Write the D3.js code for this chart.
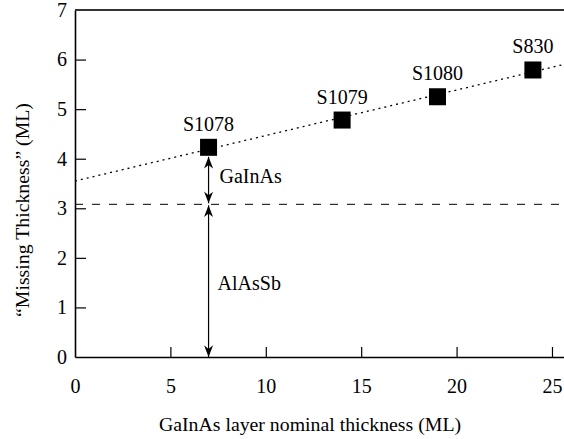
<!DOCTYPE html>
<html>
<head>
<meta charset="utf-8">
<script src="https://cdn.jsdelivr.net/npm/d3@7"></script>
<style>
  body { margin: 0; background: #fff; }
  svg text { font-family: "Liberation Serif", "Times New Roman", Times, "DejaVu Serif", serif; }
</style>
</head>
<body>
<svg id="chart"></svg>
<script>
// sample data
const samples = ["S1078", "S1079", "S1080", "S830"];
const nominal = [7, 14, 19, 24];
const missing = [4.23, 4.78, 5.25, 5.79];

// linear fit through the points (end points)
const fitX = [0, 25.6];
const fitY = [3.55, 5.9];

// AlAsSb level (dashed)
const alassbLevel = 3.08;

const xTicks = [0, 5, 10, 15, 20, 25];
const yTicks = [0, 1, 2, 3, 4, 5, 6, 7];

const width = 564, height = 439;
const margin = { top: 10, right: 0, bottom: 82, left: 75 };
const innerW = width - margin.left - margin.right;
const innerH = height - margin.top - margin.bottom;
const serif = '"Liberation Serif", "Times New Roman", Times, "DejaVu Serif", serif';

const svg = d3.select("#chart")
    .attr("width", width)
    .attr("height", height);

const defs = svg.append("defs");
defs.append("marker")
    .attr("id", "head")
    .attr("viewBox", "0 -5 13 10")
    .attr("refX", 13)
    .attr("refY", 0)
    .attr("markerWidth", 13)
    .attr("markerHeight", 9)
    .attr("markerUnits", "userSpaceOnUse")
    .attr("orient", "auto-start-reverse")
    .append("path")
    .attr("d", "M0,-5 L13,0 L0,5 L4,0 Z")
    .attr("fill", "#000");

const g = svg.append("g")
    .attr("transform", `translate(${margin.left},${margin.top})`);

const x = d3.scaleLinear().domain([0, 25.63]).range([0, innerW]);
const y = d3.scaleLinear().domain([0, 7]).range([innerH, 0]);

// axes
const xAxis = g.append("g")
    .attr("transform", `translate(0,${innerH})`)
    .call(d3.axisBottom(x).tickValues(xTicks).tickFormat(d3.format("d"))
        .tickSizeInner(-10).tickSizeOuter(0).tickPadding(22));
const yAxis = g.append("g")
    .call(d3.axisLeft(y).tickValues(yTicks).tickFormat(d3.format("d"))
        .tickSizeInner(-11).tickSizeOuter(0).tickPadding(8));

[xAxis, yAxis].forEach(a => {
    a.attr("font-family", null).attr("font-size", null);
    a.select(".domain").attr("stroke", "#000").attr("stroke-width", 1.6);
    a.selectAll(".tick line").attr("stroke", "#000").attr("stroke-width", 1.2);
    a.selectAll(".tick text")
        .attr("fill", "#000")
        .attr("font-family", serif)
        .attr("font-size", 20);
});
xAxis.selectAll(".tick").filter(d => d === 0).select("line").remove();
yAxis.selectAll(".tick").filter(d => d === 0 || d === 7).select("line").remove();

// top frame line
g.append("line")
    .attr("x1", 0).attr("x2", innerW)
    .attr("y1", y(7)).attr("y2", y(7))
    .attr("stroke", "#333")
    .attr("stroke-width", 2);

// dashed AlAsSb level
g.append("line")
    .attr("x1", 0).attr("x2", innerW)
    .attr("y1", y(alassbLevel)).attr("y2", y(alassbLevel))
    .attr("stroke", "#000")
    .attr("stroke-width", 1)
    .attr("stroke-dasharray", "8,9");

// dotted fit line
g.append("path")
    .datum(fitX.map((v, i) => ({ x: v, y: fitY[i] })))
    .attr("fill", "none")
    .attr("stroke", "#000")
    .attr("stroke-width", 1.3)
    .attr("stroke-dasharray", "2,4")
    .attr("d", d3.line().x(d => x(d.x)).y(d => y(d.y)));

const points = samples.map((s, i) => ({ name: s, x: nominal[i], y: missing[i] }));
const sq = 17;

// arrows at the first sample
const p0 = points[0];
g.append("line")
    .attr("x1", x(p0.x)).attr("x2", x(p0.x))
    .attr("y1", y(alassbLevel) - 1).attr("y2", y(p0.y) + sq / 2 + 1)
    .attr("stroke", "#000").attr("stroke-width", 1.2)
    .attr("marker-start", "url(#head)")
    .attr("marker-end", "url(#head)");
g.append("line")
    .attr("x1", x(p0.x)).attr("x2", x(p0.x))
    .attr("y1", y(0)).attr("y2", y(alassbLevel) + 1)
    .attr("stroke", "#000").attr("stroke-width", 1.2)
    .attr("marker-start", "url(#head)")
    .attr("marker-end", "url(#head)");

g.append("text")
    .attr("x", x(p0.x) + 11)
    .attr("y", 173)
    .attr("font-size", 20)
    .text("GaInAs");
g.append("text")
    .attr("x", x(p0.x) + 9)
    .attr("y", 280)
    .attr("font-size", 20)
    .text("AlAsSb");

// markers
g.selectAll(".pt")
    .data(points)
    .enter()
    .append("rect")
    .attr("class", "pt")
    .attr("x", d => x(d.x) - sq / 2)
    .attr("y", d => y(d.y) - sq / 2)
    .attr("width", sq)
    .attr("height", sq)
    .attr("fill", "#000");

g.selectAll(".lbl")
    .data(points)
    .enter()
    .append("text")
    .attr("class", "lbl")
    .attr("x", d => x(d.x))
    .attr("y", d => y(d.y) - sq / 2 - 8)
    .attr("text-anchor", "middle")
    .attr("font-size", 20)
    .text(d => d.name);

// axis titles
svg.append("text")
    .attr("x", 310)
    .attr("y", 431)
    .attr("text-anchor", "middle")
    .attr("font-size", 19.8)
    .text("GaInAs layer nominal thickness (ML)");

svg.append("text")
    .attr("transform", "rotate(-90)")
    .attr("x", -210)
    .attr("y", 29)
    .attr("text-anchor", "middle")
    .attr("font-size", 19.8)
    .text("\u201CMissing Thickness\u201D (ML)");
</script>
</body>
</html>
